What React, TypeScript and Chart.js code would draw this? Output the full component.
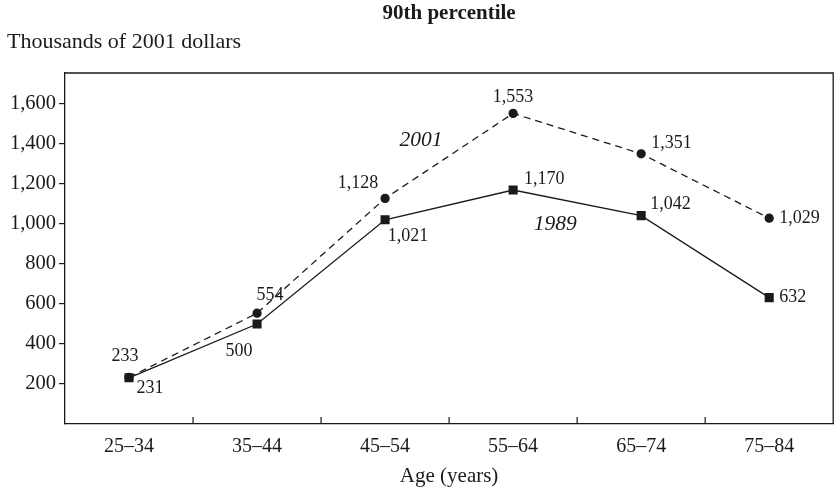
import React, { useEffect, useRef } from "react";
import { Chart, registerables } from "chart.js";

Chart.register(...registerables);

const categories = ["25–34", "35–44", "45–54", "55–64", "65–74", "75–84"];
const values2001 = [233, 554, 1128, 1553, 1351, 1029];
const values1989 = [231, 500, 1021, 1170, 1042, 632];
const yTickValues = [200, 400, 600, 800, 1000, 1200, 1400, 1600];

// label placement: [dx, dy, align]
const place2001: [number, number, CanvasTextAlign][] = [
  [-4, -21, "center"],
  [13, -18, "center"],
  [-27, -15, "center"],
  [0, -16, "center"],
  [10, -11, "left"],
  [10, 0, "left"],
];
const place1989: [number, number, CanvasTextAlign][] = [
  [21, 10, "center"],
  [-18, 27, "center"],
  [23, 16, "center"],
  [11, -11, "left"],
  [9, -11, "left"],
  [10, 0, "left"],
];

const INK = "#1a1a1a";
const FONT = "'Liberation Serif', 'DejaVu Serif', serif";

const fmt = (v: number) => v.toLocaleString("en-US");

const annotatePlugin = {
  id: "annotate",
  afterDraw(chart: any) {
    const { ctx, chartArea, scales } = chart;
    const x = scales.x;
    const y = scales.y;
    ctx.save();
    ctx.strokeStyle = INK;
    ctx.lineWidth = 1.3;
    // frame top and right
    ctx.beginPath();
    ctx.moveTo(chartArea.left, chartArea.top);
    ctx.lineTo(chartArea.right, chartArea.top);
    ctx.lineTo(chartArea.right, chartArea.bottom);
    ctx.stroke();
    // inner x ticks between categories
    ctx.lineWidth = 1.2;
    for (let i = 1; i < categories.length; i++) {
      const px = (x.getPixelForValue(i - 1) + x.getPixelForValue(i)) / 2;
      ctx.beginPath();
      ctx.moveTo(px, chartArea.bottom);
      ctx.lineTo(px, chartArea.bottom - 7);
      ctx.stroke();
    }
    // value labels
    ctx.fillStyle = INK;
    ctx.font = `18px ${FONT}`;
    ctx.textBaseline = "middle";
    const drawLabels = (vals: number[], place: [number, number, CanvasTextAlign][]) => {
      vals.forEach((v, i) => {
        const px = x.getPixelForValue(i);
        const py = y.getPixelForValue(v);
        const [dx, dy, al] = place[i];
        ctx.textAlign = al;
        ctx.fillText(fmt(v), px + dx, py + dy);
      });
    };
    drawLabels(values2001, place2001);
    drawLabels(values1989, place1989);
    // series names
    ctx.font = `italic 21.5px ${FONT}`;
    ctx.textAlign = "center";
    const step = x.getPixelForValue(1) - x.getPixelForValue(0);
    ctx.fillText("2001", x.getPixelForValue(2) + 0.28 * step, y.getPixelForValue(1420));
    ctx.fillText("1989", x.getPixelForValue(3) + 0.33 * step, y.getPixelForValue(1000));
    // titles
    ctx.font = `bold 21px ${FONT}`;
    ctx.textAlign = "center";
    ctx.fillText("90th percentile", (chartArea.left + chartArea.right) / 2, 14);
    ctx.font = `22px ${FONT}`;
    ctx.textAlign = "left";
    ctx.fillText("Thousands of 2001 dollars", 7, 42);
    ctx.restore();
  },
};

export default function App() {
  const ref = useRef<HTMLCanvasElement>(null);
  useEffect(() => {
    if (!ref.current) return;
    const chart = new Chart(ref.current, {
      type: "line",
      data: {
        labels: categories,
        datasets: [
          {
            label: "2001",
            data: values2001,
            borderColor: INK,
            backgroundColor: INK,
            borderWidth: 1.3,
            borderDash: [7, 5],
            pointStyle: "circle",
            pointRadius: 4,
            fill: false,
          },
          {
            label: "1989",
            data: values1989,
            borderColor: INK,
            backgroundColor: INK,
            borderWidth: 1.3,
            pointStyle: "rect",
            pointRadius: 5.5,
            fill: false,
          },
        ],
      },
      options: {
        responsive: false,
        animation: false,
        layout: { padding: { top: 73, right: 3, left: 0, bottom: 0 } },
        plugins: { legend: { display: false }, tooltip: { enabled: false }, title: { display: false } },
        scales: {
          x: {
            type: "category",
            offset: true,
            grid: { display: false, drawTicks: false },
            border: { display: true, color: INK, width: 1.3 },
            ticks: { color: INK, font: { family: FONT, size: 20 }, padding: 11 },
            title: {
              display: true,
              text: "Age (years)",
              color: INK,
              font: { family: FONT, size: 21 },
              padding: { top: 4, bottom: 2 },
            },
            afterFit: (s: any) => {
              s.height = 67;
            },
          },
          y: {
            min: 0,
            max: 1755,
            grid: { drawOnChartArea: false, drawTicks: true, tickLength: 6, color: INK, lineWidth: 1.2 },
            border: { display: true, color: INK, width: 1.3 },
            ticks: {
              color: INK,
              font: { family: FONT, size: 20.5 },
              padding: 3,
              callback: (v: any) => fmt(Number(v)),
            },
            afterBuildTicks: (s: any) => {
              s.ticks = yTickValues.map((v) => ({ value: v }));
            },
            afterFit: (s: any) => {
              s.width = 65;
            },
          },
        },
      },
      plugins: [annotatePlugin],
    });
    return () => chart.destroy();
  }, []);
  return (
    <div style={{ position: "fixed", left: 0, top: 0, width: 840, height: 491, background: "#fff" }}>
      <canvas ref={ref} width={840} height={491} />
    </div>
  );
}
